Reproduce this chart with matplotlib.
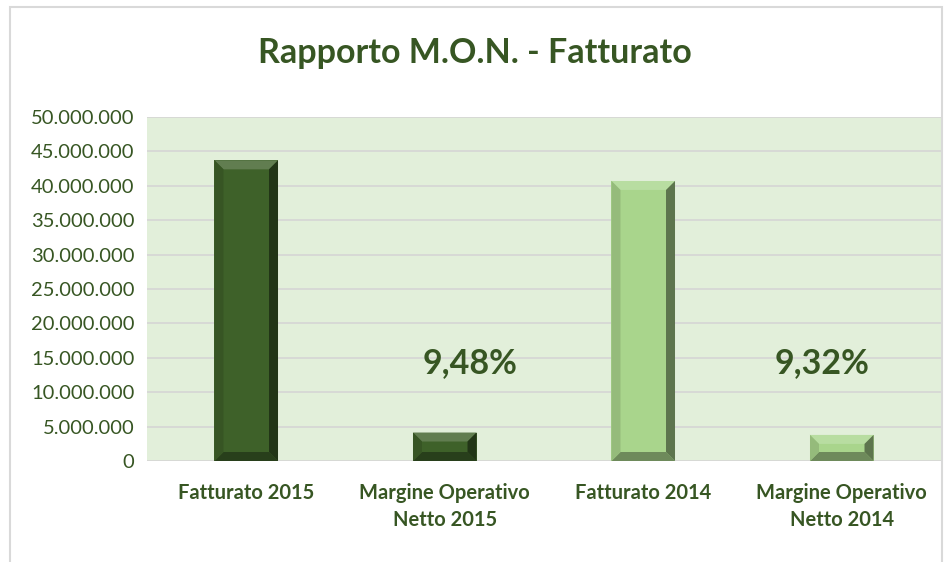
import numpy as np
import matplotlib.pyplot as plt
from matplotlib.patches import Polygon, Rectangle
from matplotlib.colors import to_rgb
from matplotlib.ticker import FuncFormatter

plt.rcParams['font.family'] = ['Lato', 'DejaVu Sans']

# ---- data ----
categories = ["Fatturato 2015", "Margine Operativo\nNetto 2015",
              "Fatturato 2014", "Margine Operativo\nNetto 2014"]
values = [43700000, 4140000, 40700000, 3790000]
margin_labels = ["9,48%", "9,32%"]
title = "Rapporto M.O.N. - Fatturato"

dark = "#3e6129"
light = "#a9d58c"
bar_colors = [dark, dark, light, light]
text_col = "#375623"


def shade(c, f):
    r = np.array(to_rgb(c))
    if f >= 0:
        return tuple(r + (1 - r) * f)
    return tuple(r * (1 + f))


def bevel(ax, x0, w, h, color, px=9):
    # bevel size in data units from current scale
    sx = px / (ax.bbox.width / np.diff(ax.get_xlim())[0])
    sy = px / (ax.bbox.height / np.diff(ax.get_ylim())[0])
    sy = min(sy, h / 2)
    x1 = x0 + w
    ax.add_patch(Rectangle((x0, 0), w, h, facecolor=color, edgecolor='none', zorder=3))
    ax.add_patch(Polygon([(x0, h), (x1, h), (x1 - sx, h - sy), (x0 + sx, h - sy)],
                         facecolor=shade(color, 0.18), edgecolor='none', zorder=4))
    ax.add_patch(Polygon([(x0, 0), (x1, 0), (x1 - sx, sy), (x0 + sx, sy)],
                         facecolor=shade(color, -0.35), edgecolor='none', zorder=4))
    ax.add_patch(Polygon([(x0, 0), (x0, h), (x0 + sx, h - sy), (x0 + sx, sy)],
                         facecolor=shade(color, -0.12), edgecolor='none', zorder=4))
    ax.add_patch(Polygon([(x1, 0), (x1, h), (x1 - sx, h - sy), (x1 - sx, sy)],
                         facecolor=shade(color, -0.45), edgecolor='none', zorder=4))


fig = plt.figure(figsize=(9.44, 5.62), dpi=100)
fig.patches.append(Rectangle((10 / 944, -0.05), 932 / 944, 1.05 - 7 / 562,
                             transform=fig.transFigure, fill=False,
                             edgecolor="#d9d9d9", linewidth=1.5))

ax = fig.add_axes([147 / 944, 1 - 461 / 562, 794 / 944, 344 / 562])
ax.set_facecolor("#e2efda")
ax.set_xlim(-0.5, len(categories) - 0.5)
ax.set_ylim(0, 50000000)
ax.set_yticks(np.arange(0, 50000001, 5000000))
ax.yaxis.set_major_formatter(FuncFormatter(lambda v, p: f"{int(v):,}".replace(",", ".")))
ax.grid(axis='y', color="#d5d5d5", linewidth=1.2, zorder=1)
ax.set_axisbelow(True)
for s in ax.spines.values():
    s.set_visible(False)
ax.tick_params(axis='y', length=0, labelsize=14.5, labelcolor=text_col, pad=9)
ax.tick_params(axis='x', length=0, labelsize=14.5, labelcolor=text_col, pad=16)
ax.set_xticks(range(len(categories)))
ax.set_xticklabels(categories, fontweight='bold', linespacing=1.45)

bw = 0.32
fig.canvas.draw()
for i, v in enumerate(values):
    bevel(ax, i - bw / 2, bw, v, bar_colors[i])

ax.text(1.127, 14200000, margin_labels[0], ha='center', va='center',
        fontsize=24.5, fontweight='bold', color=text_col, zorder=5)
ax.text(2.9, 14200000, margin_labels[1], ha='center', va='center',
        fontsize=24.5, fontweight='bold', color=text_col, zorder=5)

fig.text(475 / 944, 1 - 53 / 562, title, ha='center', va='center',
         fontsize=24.5, fontweight='bold', color=text_col)

fig.savefig("out.png", dpi=100)
